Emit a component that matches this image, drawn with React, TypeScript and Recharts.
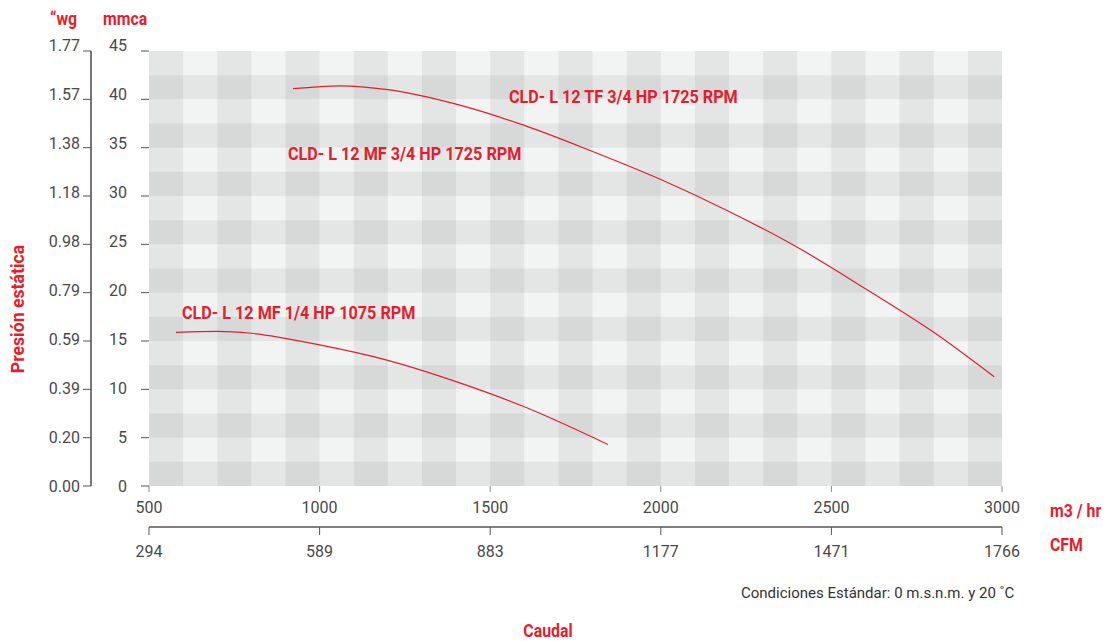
import React from "react";
import { LineChart, Line, XAxis, YAxis, ReferenceArea } from "recharts";

// Curva CLD- L 12 TF 3/4 HP 1725 RPM (caudal m3/hr, presión mmca)
const tfFlow = [922, 1060, 1200, 1400, 1600, 1800, 2000, 2200, 2400, 2600, 2800, 2977];
const tfPressure = [41.1, 41.4, 41.0, 39.5, 37.3, 34.6, 31.7, 28.4, 24.7, 20.4, 15.9, 11.3];

// Curva CLD- L 12 MF 1/4 HP 1075 RPM
const mfFlow = [579, 700, 800, 1000, 1200, 1400, 1600, 1845];
const mfPressure = [15.9, 16.0, 15.8, 14.6, 13.0, 10.8, 8.2, 4.3];

const flowTicks = [500, 1000, 1500, 2000, 2500, 3000];
const cfmLabels = ["294", "589", "883", "1177", "1471", "1766"];
const mmTicks = [0, 5, 10, 15, 20, 25, 30, 35, 40, 45];
const wgLabels = ["0.00", "0.20", "0.39", "0.59", "0.79", "0.98", "1.18", "1.38", "1.57", "1.77"];

const seriesLabels = [
  "CLD- L 12 TF 3/4 HP 1725 RPM",
  "CLD- L 12 MF 3/4 HP 1725 RPM",
  "CLD- L 12 MF 1/4 HP 1075 RPM",
];

const RED = "#e31e2d";
const AXIS = "#555";
const TEXT = "#4a4a4a";
const FONT = "Roboto, 'Noto Sans', sans-serif";

const tfData = tfFlow.map((q, i) => ({ q, p: tfPressure[i] }));
const mfData = mfFlow.map((q, i) => ({ q, p: mfPressure[i] }));

// checker bands: darker columns every other 100 m3/hr, darker rows every other 2.5 mmca
const colBands = Array.from({ length: 13 }, (_, i) => 500 + i * 200);
const rowBands = Array.from({ length: 9 }, (_, i) => i * 5);

// axis ids: lower id sits next to the plot
const M3 = 0;
const CFM = 1;
const MM = 0;
const WG = 1;

function LeftTick(props: any) {
  const { x, y, payload, labels } = props;
  const idx = mmTicks.indexOf(payload.value);
  const text = labels ? labels[idx] : String(payload.value);
  const lift = (payload.value / 45) * 6;
  return (
    <text x={x} y={y - lift} dy="0.36em" textAnchor="end" fill={TEXT} fontSize={16} fontFamily={FONT}>
      {text}
    </text>
  );
}

function BottomTick(props: any) {
  const { x, y, payload, labels } = props;
  const idx = flowTicks.indexOf(payload.value);
  const text = labels ? labels[idx] : String(payload.value);
  return (
    <text x={x} y={y} dy="0.71em" textAnchor="middle" fill={TEXT} fontSize={16} fontFamily={FONT}>
      {text}
    </text>
  );
}

function Cond({ x, y, children, size = 18, weight = 700, fill = RED, anchor = "start", sx = 0.88, rotate = 0 }: any) {
  return (
    <g transform={`translate(${x},${y}) rotate(${rotate}) scale(${sx},1)`}>
      <text x={0} y={0} textAnchor={anchor} fontSize={size} fontWeight={weight} fill={fill} fontFamily={FONT}>
        {children}
      </text>
    </g>
  );
}

export default function App() {
  return (
    <div style={{ position: "absolute", left: 0, top: 0, width: 1108, height: 641, background: "#fff" }}>
      <LineChart width={1108} height={641} margin={{ top: 51, right: 106, bottom: 74, left: 11 }}>
        <XAxis
          xAxisId={M3}
          dataKey="q"
          type="number"
          domain={[500, 3000]}
          ticks={flowTicks}
          axisLine={false}
          tickLine={{ stroke: "#888" }}
          tickSize={6}
          tickMargin={10}
          height={41}
          tick={<BottomTick />}
          allowDataOverflow
        />
        <XAxis
          xAxisId={CFM}
          dataKey="q"
          type="number"
          domain={[500, 3000]}
          ticks={flowTicks}
          axisLine={{ stroke: AXIS, strokeWidth: 1.6 }}
          tickLine={{ stroke: AXIS }}
          tickSize={8}
          tickMargin={11}
          height={40}
          tick={<BottomTick labels={cfmLabels} />}
          allowDataOverflow
        />
        <YAxis
          yAxisId={MM}
          type="number"
          domain={[0, 45]}
          ticks={mmTicks}
          axisLine={false}
          tickLine={{ stroke: AXIS }}
          tickSize={8}
          tickMargin={14}
          width={58}
          tick={<LeftTick />}
          allowDataOverflow
        />
        <YAxis
          yAxisId={WG}
          type="number"
          domain={[0, 45]}
          ticks={mmTicks}
          axisLine={{ stroke: AXIS, strokeWidth: 1.6 }}
          tickLine={{ stroke: AXIS }}
          tickSize={8}
          tickMargin={3}
          width={80}
          tick={<LeftTick labels={wgLabels} />}
          allowDataOverflow
        />
        <ReferenceArea xAxisId={M3} yAxisId={MM} x1={500} x2={3000} y1={0} y2={45} fill="#f2f3f3" fillOpacity={1} stroke="none" />
        {colBands.map((c) => (
          <ReferenceArea key={"c" + c} xAxisId={M3} yAxisId={MM} x1={c} x2={c + 100} y1={0} y2={45} fill="#000" fillOpacity={0.055} stroke="none" />
        ))}
        {rowBands.map((r) => (
          <ReferenceArea key={"r" + r} xAxisId={M3} yAxisId={MM} x1={500} x2={3000} y1={r} y2={r + 2.5} fill="#000" fillOpacity={0.055} stroke="none" />
        ))}
        <Line xAxisId={M3} yAxisId={MM} data={tfData} dataKey="p" type="monotone" stroke={RED} strokeWidth={1.2} dot={false} isAnimationActive={false} />
        <Line xAxisId={M3} yAxisId={MM} data={mfData} dataKey="p" type="monotone" stroke={RED} strokeWidth={1.2} dot={false} isAnimationActive={false} />
      </LineChart>
      <svg width={1108} height={641} style={{ position: "absolute", left: 0, top: 0, pointerEvents: "none" }}>
        <Cond x={50} y={25}>“wg</Cond>
        <Cond x={103} y={25}>mmca</Cond>
        <Cond x={509} y={103} sx={0.9}>{seriesLabels[0]}</Cond>
        <Cond x={288} y={160} sx={0.9}>{seriesLabels[1]}</Cond>
        <Cond x={182} y={319} sx={0.9}>{seriesLabels[2]}</Cond>
        <Cond x={1050} y={517}>m3 / hr</Cond>
        <Cond x={1050} y={551}>CFM</Cond>
        <Cond x={548} y={637} anchor="middle">Caudal</Cond>
        <Cond x={24} y={309} anchor="middle" rotate={-90} size={18} sx={0.98}>Presión estática</Cond>
        <Cond x={741} y={598} size={15} weight={400} fill="#333" sx={1}>Condiciones Estándar: 0 m.s.n.m. y 20 ˚C</Cond>
      </svg>
    </div>
  );
}
